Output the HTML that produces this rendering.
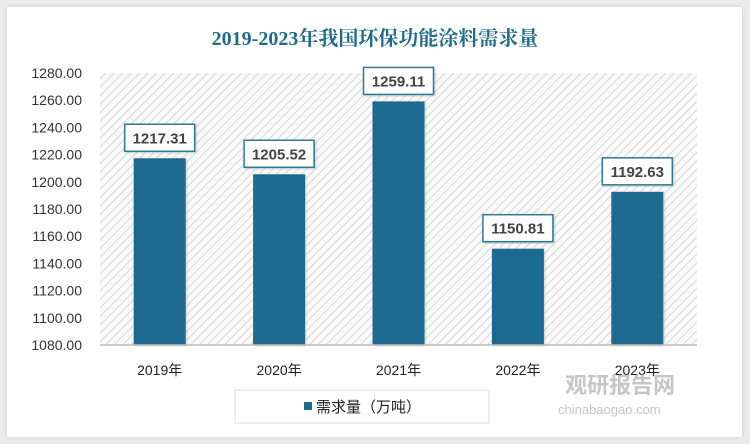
<!DOCTYPE html>
<html><head><meta charset="utf-8"><style>
body{margin:0;background:#ececec;}
#card{position:absolute;left:7px;top:7px;width:735px;height:430px;background:#fff;box-shadow:0 0 4px #ccc;}
</style></head><body>
<div id="card"></div>
<svg id="c" width="750" height="444" style="position:absolute;left:0;top:0">
<defs><pattern id="hatch" width="6" height="6" patternUnits="userSpaceOnUse" patternTransform="rotate(45)">
<rect width="6" height="6" fill="#fafafa"/><line x1="0" y1="0" x2="0" y2="6" stroke="#d6d6d6" stroke-width="2"/></pattern>
<filter id="sh"><feDropShadow dx="1" dy="1" stdDeviation="1" flood-color="#999" flood-opacity="0.5"/></filter></defs>
<text x="375" y="45" text-anchor="middle" font-family="Liberation Serif, Noto Serif CJK SC, serif" font-weight="bold" font-size="20" fill="#1f6b8a">2019-2023年我国环保功能涂料需求量</text>
<rect x="100" y="73" width="597" height="272" fill="url(#hatch)"/>
<g id="marks"></g>
<line x1="100" y1="345" x2="697" y2="345" stroke="#bbb" stroke-width="1.5"/>
<rect x="235" y="390" width="254" height="33" fill="#fff" stroke="#ddd"/>
<rect x="304" y="402" width="8" height="8" fill="#1e6b8f"/>
<text x="316" y="412" font-family="Liberation Sans, Noto Sans CJK SC, sans-serif" font-size="15" fill="#222">需求量（万吨）</text>
<g opacity="0.55">
<text x="565" y="393" font-family="Liberation Sans, Noto Sans CJK SC, sans-serif" font-weight="bold" font-size="22" fill="#999">观研报告网</text>
<text x="558" y="414" font-family="Liberation Sans, sans-serif" font-size="13" fill="#999">chinabaogao.com</text>
</g>
</svg>
<script>
const categories=["2019年","2020年","2021年","2022年","2023年"];
const values=[1217.31,1205.52,1259.11,1150.81,1192.63];
const ticks=[1080,1100,1120,1140,1160,1180,1200,1220,1240,1260,1280];
const x0=100,x1=697,yTop=73,yBot=345,vmin=1080,vmax=1280;
const y=v=>yBot-(v-vmin)/(vmax-vmin)*(yBot-yTop);
const bw=(x1-x0)/categories.length;
const xc=i=>x0+bw*(i+0.5);
const g=document.getElementById('marks');
const ns='http://www.w3.org/2000/svg';
function mk(t,a){const e=document.createElementNS(ns,t);for(const k in a)e.setAttribute(k,a[k]);return e;}
ticks.forEach(t=>{const e=mk('text',{x:82,y:y(t)+5,'text-anchor':'end','font-family':'Liberation Sans, sans-serif','font-size':14,fill:'#333'});e.textContent=t.toFixed(2);


g.appendChild(e);});
categories.forEach((c,i)=>{
const b=mk('rect',{x:xc(i)-26,y:y(values[i]),width:52,height:yBot-y(values[i]),fill:'#1e6b8f',filter:'url(#sh)'});


g.appendChild(b);
const by=y(values[i])-34;
const lb=mk('rect',{x:xc(i)-35,y:by,width:70,height:27,fill:'#fff',stroke:'#2c7a98','stroke-width':1.5,filter:'url(#sh)'});


g.appendChild(lb);
const lt=mk('text',{x:xc(i),y:by+19,'text-anchor':'middle','font-family':'Liberation Sans, sans-serif','font-weight':'bold','font-size':15,fill:'#444'});lt.textContent=values[i].toFixed(2);


g.appendChild(lt);
const xl=mk('text',{x:xc(i),y:375,'text-anchor':'middle','font-family':'Liberation Sans, Noto Sans CJK SC, sans-serif','font-size':14,fill:'#222'});xl.textContent=c;


g.appendChild(xl);
});
</script>
</body></html>
